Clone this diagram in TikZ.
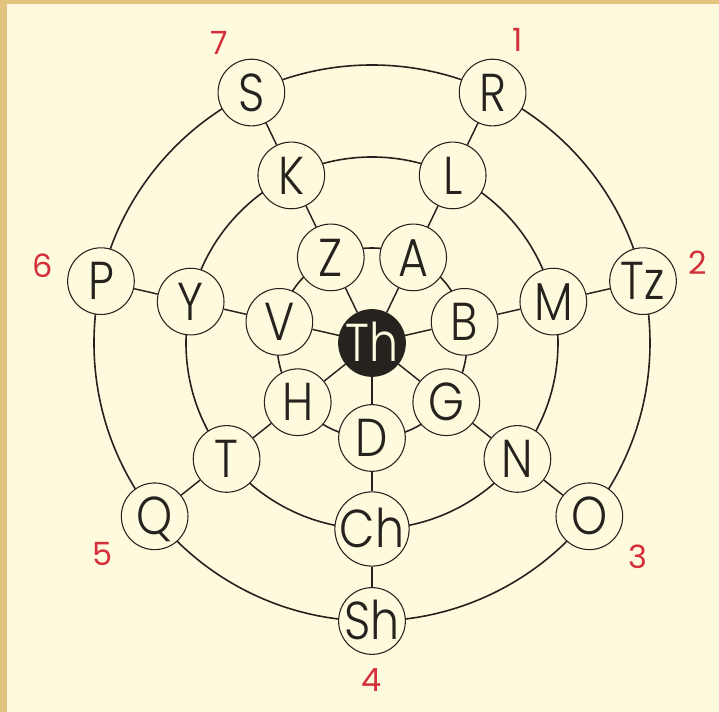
\documentclass[tikz,border=0pt]{standalone}
\usepackage{fontspec}
\setmainfont{Poppins}
\newfontfamily\letterfont{Poppins}[UprightFont={* Light},FakeStretch=0.86]
\definecolor{bg}{RGB}{254,250,222}
\definecolor{band}{RGB}{226,196,128}
\definecolor{ink}{RGB}{38,34,30}
\definecolor{numred}{RGB}{212,48,60}
\begin{document}
\begin{tikzpicture}[x=0.75pt,y=0.75pt,
  letter/.style={circle,draw=ink,line width=0.8pt,fill=bg,minimum size=50pt,inner sep=0pt,
    font=\letterfont\fontsize{40}{40}\selectfont,text=ink,text height=28pt,text depth=0pt},
  center/.style={letter,fill=ink,text=bg},
  ring/.style={draw=ink,line width=1.2pt},
  spoke/.style={draw=ink,line width=1.1pt},
  num/.style={text=numred,font=\fontsize{24}{24}\selectfont,inner sep=0pt}]
\useasboundingbox (-372,-369) rectangle (347,343);
\fill[bg] (-372,-369) rectangle (347,343);
\fill[band] (-372,-369) rectangle (-365,343);
\fill[band] (-372,339) rectangle (347,343);
\coordinate (O) at (0,0);
% rings
\draw[ring] (O) circle (95);
\draw[ring] (O) circle (186);
\draw[ring] (O) circle (278);
% centre
\node[center] (Th) at (O) {Th};
% inner ring
\node[letter] (D) at (270:95) {D};
\node[letter] (G) at (321.43:95) {G};
\node[letter] (B) at (12.857:95) {B};
\node[letter] (A) at (64.286:95) {A};
\node[letter] (Z) at (115.714:95) {Z};
\node[letter] (V) at (167.143:95) {V};
\node[letter] (H) at (218.571:95) {H};
% middle ring
\node[letter] (Ch) at (270:186) {Ch};
\node[letter] (N) at (321.43:186) {N};
\node[letter] (M) at (12.857:186) {M};
\node[letter] (L) at (64.286:186) {L};
\node[letter] (K) at (115.714:186) {K};
\node[letter] (Y) at (167.143:186) {Y};
\node[letter] (T) at (218.571:186) {T};
% outer ring
\node[letter] (Sh) at (270:278) {Sh};
\node[letter] (Oo) at (321.43:278) {O};
\node[letter] (Tz) at (12.857:278) {Tz};
\node[letter] (R) at (64.286:278) {R};
\node[letter] (S) at (115.714:278) {S};
\node[letter] (P) at (167.143:278) {P};
\node[letter] (Q) at (218.571:278) {Q};
% spokes
\draw[spoke] (Th) -- (D) (D) -- (Ch) (Ch) -- (Sh);
\draw[spoke] (Th) -- (G) (G) -- (N) (N) -- (Oo);
\draw[spoke] (Th) -- (B) (B) -- (M) (M) -- (Tz);
\draw[spoke] (Th) -- (A) (A) -- (L) (L) -- (R);
\draw[spoke] (Th) -- (Z) (Z) -- (K) (K) -- (S);
\draw[spoke] (Th) -- (V) (V) -- (Y) (Y) -- (P);
\draw[spoke] (Th) -- (H) (H) -- (T) (T) -- (Q);
% numbers
\node[num] (n4) at (270:337) {4};
\node[num] (n3) at (321.2:341) {3};
\node[num] (n2) at (13.8:335) {2};
\node[num] (n1) at (64.4:336) {1};
\node[num] (n7) at (117:337) {7};
\node[num] (n6) at (166.7:338) {6};
\node[num] (n5) at (218:342) {5};
\end{tikzpicture}
\end{document}
